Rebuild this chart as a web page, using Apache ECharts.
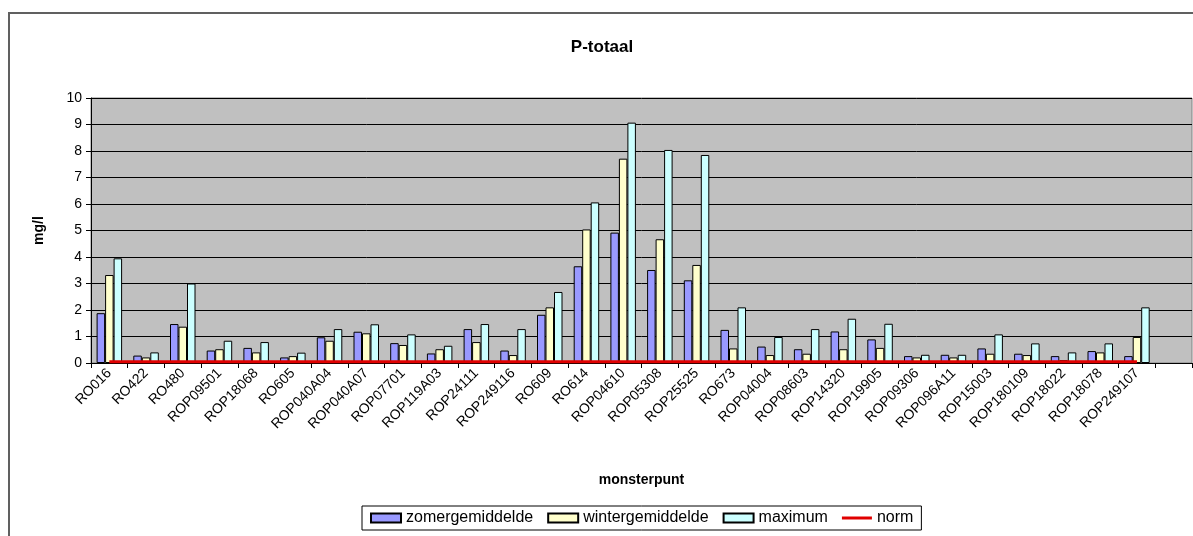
<!DOCTYPE html>
<html>
<head>
<meta charset="utf-8">
<script src="https://cdn.jsdelivr.net/npm/echarts@6/dist/echarts.min.js"></script>
<style>
html,body{margin:0;padding:0;background:#fff;}
#c{width:1193px;height:536px;}
</style>
</head>
<body>
<div id="c"></div>
<script>
const categories = ['RO016','RO422','RO480','ROP09501','ROP18068','RO605','ROP040A04','ROP040A07','ROP07701','ROP119A03','ROP24111','ROP249116','RO609','RO614','ROP04610','ROP05308','ROP25525','RO673','ROP04004','ROP08603','ROP14320','ROP19905','ROP09306','ROP096A11','ROP15003','ROP180109','ROP18022','ROP18078','ROP249107',''];
const zomergemiddelde = [1.88,0.28,1.47,0.47,0.57,0.21,0.97,1.18,0.75,0.36,1.28,0.47,1.82,3.65,4.92,3.51,3.12,1.25,0.62,0.52,1.19,0.89,0.26,0.31,0.55,0.35,0.26,0.45,0.26,null];
const wintergemiddelde = [3.32,0.21,1.37,0.52,0.40,0.26,0.84,1.12,0.68,0.52,0.79,0.30,2.10,5.04,7.71,4.67,3.70,0.55,0.30,0.35,0.52,0.57,0.21,0.21,0.35,0.30,0.11,0.40,0.98,null];
const maximum = [3.95,0.40,3.0,0.84,0.79,0.39,1.28,1.46,1.08,0.65,1.47,1.28,2.68,6.06,9.07,8.04,7.85,2.10,0.98,1.28,1.67,1.48,0.31,0.31,1.08,0.74,0.40,0.74,2.10,null];
const norm = [0.05,0.05,0.05,0.05,0.05,0.05,0.05,0.05,0.05,0.05,0.05,0.05,0.05,0.05,0.05,0.05,0.05,0.05,0.05,0.05,0.05,0.05,0.05,0.05,0.05,0.05,0.05,0.05,0.05,null];
const yTicks = {min:0, max:10, interval:1};

const chart = echarts.init(document.getElementById('c'), null, {renderer:'canvas'});
const font = 'Liberation Sans, Arial, sans-serif';
const barStyle = (c) => ({color:c, borderColor:'#000', borderWidth:1});
chart.setOption({
  animation:false,
  backgroundColor:'#fff',
  textStyle:{fontFamily:font},
  graphic:[{type:'rect', shape:{x:9, y:13, width:1200, height:600}, style:{fill:'none', stroke:'#606060', lineWidth:2}, silent:true, z:-1}],
  title:{text:'P-totaal', left:597, top:34, textAlign:'center', textStyle:{fontFamily:font, fontSize:17, fontWeight:'bold', color:'#000'}},
  grid:{left:91, right:1, top:98, bottom:173, show:true, backgroundColor:'#C0C0C0', borderColor:'#808080', borderWidth:1},
  legend:{
    left:362, top:506, orient:'horizontal',
    borderColor:'#000', borderWidth:1, padding:[4,8,4,8],
    itemWidth:30, itemHeight:9, itemGap:14,
    textStyle:{fontFamily:font, fontSize:16, color:'#000'},
    data:[
      {name:'zomergemiddelde', icon:'rect'},
      {name:'wintergemiddelde', icon:'rect'},
      {name:'maximum', icon:'rect'},
      {name:'norm', icon:'path://M0,0 L30,0 L30,3 L0,3 Z', itemStyle:{color:'#E00000'}}
    ]
  },
  xAxis:{
    type:'category', data:categories, boundaryGap:true,
    name:'monsterpunt', nameLocation:'middle', nameGap:110,
    nameTextStyle:{fontFamily:font, fontSize:14, fontWeight:'bold', color:'#000'},
    axisLine:{lineStyle:{color:'#000', width:1}},
    axisTick:{show:true, alignWithLabel:false, length:5, lineStyle:{color:'#000'}},
    axisLabel:{interval:0, rotate:45, fontFamily:font, fontSize:14, color:'#000', margin:8}
  },
  yAxis:{
    type:'value', min:yTicks.min, max:yTicks.max, interval:yTicks.interval,
    name:'mg/l', nameLocation:'middle', nameGap:45, nameRotate:90,
    nameTextStyle:{fontFamily:font, fontSize:14, fontWeight:'bold', color:'#000'},
    axisLine:{show:true, lineStyle:{color:'#000', width:1}},
    axisTick:{show:true, length:5, lineStyle:{color:'#000'}},
    axisLabel:{fontFamily:font, fontSize:14, color:'#000', margin:9},
    splitLine:{show:true, lineStyle:{color:'#000', width:1}}
  },
  series:[
    {name:'zomergemiddelde', type:'bar', data:zomergemiddelde, barWidth:8.5, barGap:'0%', itemStyle:barStyle('#9999FF')},
    {name:'wintergemiddelde', type:'bar', data:wintergemiddelde, barWidth:8.5, barGap:'0%', itemStyle:barStyle('#FFFFCC')},
    {name:'maximum', type:'bar', data:maximum, barWidth:8.5, barGap:'0%', itemStyle:barStyle('#CCFFFF')},
    {name:'norm', type:'line', data:norm, symbol:'none', lineStyle:{color:'#E00000', width:3}, itemStyle:{color:'#E00000'}, z:5}
  ]
});
</script>
</body>
</html>
